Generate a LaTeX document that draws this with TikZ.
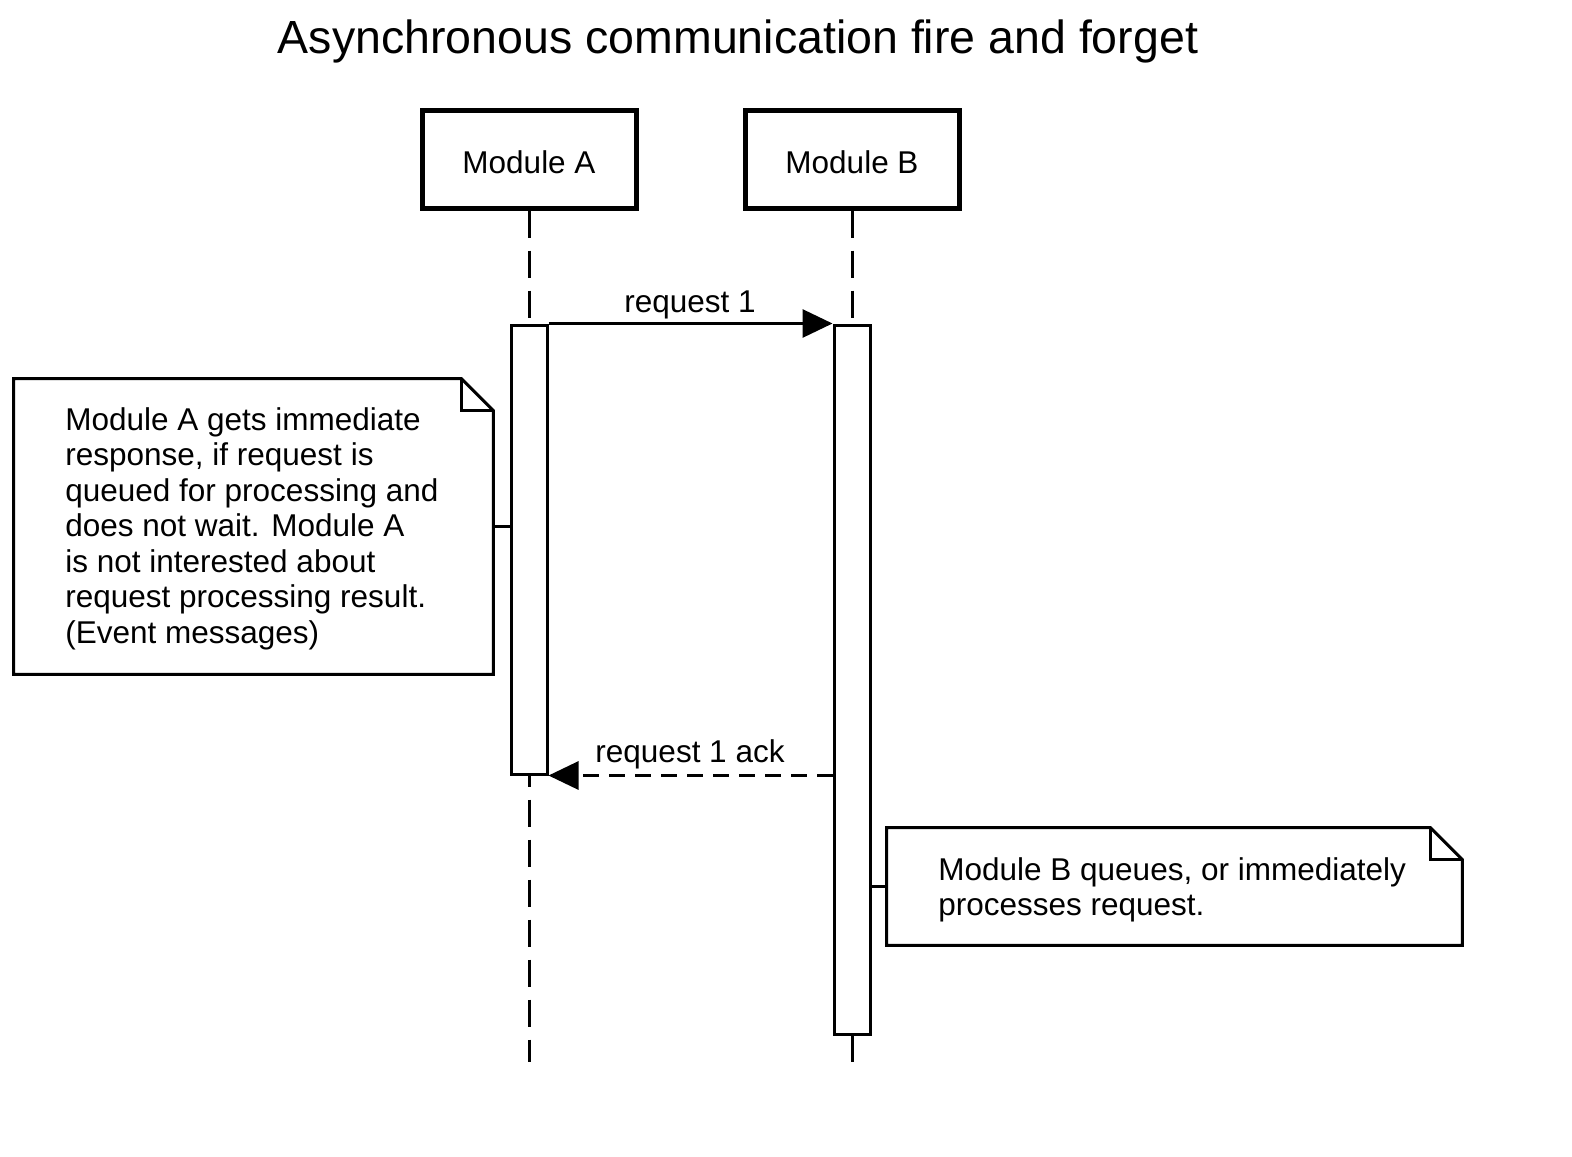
\documentclass[tikz,border=0pt]{standalone}
\usepackage{fontspec}
\setmainfont{Liberation Sans}
\usetikzlibrary{arrows.meta,calc}
\begin{document}
\begin{tikzpicture}[x=0.5pt,y=-0.5pt,
  module/.style={draw, line width=2.5pt, minimum width=107pt, minimum height=48.5pt, inner sep=0pt},
  lbl/.style={font=\fontsize{15.75pt}{17.75pt}\selectfont, inner sep=0pt},
  act/.style={draw, fill=white, line width=1.5pt, minimum width=18pt, inner sep=0pt},
  life/.style={line width=1.5pt, dash pattern=on 13.5pt off 6.5pt},
  msg/.style={line width=1.5pt, -{Triangle[length=15pt,width=14pt]}},
  reply/.style={msg, dash pattern=on 8pt off 5pt},
  noteframe/.style={inner sep=0pt},
  noteline/.style={line width=1.5pt, line join=miter}
]
\fill[white] (0,0) rectangle (1572,1156);
\useasboundingbox (0,0) rectangle (1572,1156);

% title
\node[font=\fontsize{23.25pt}{28pt}\selectfont, anchor=base, inner sep=0pt] (title) at (738,54) {Asynchronous communication fire and forget};

% participants
\node[module] (modA) at (529,159.5) {};
\node[module] (modB) at (852,159.5) {};
\node[lbl, anchor=base] (modAt) at (529,173) {Module A};
\node[lbl, anchor=base] (modBt) at (852,173) {Module B};

% activations
\node[act, minimum height=224.5pt] (actA) at (529,549.5) {};
\node[act, minimum height=354.5pt] (actB) at (852,679.5) {};

% lifelines
\coordinate (endA) at (529,1062);
\coordinate (endB) at (852,1062);
\draw[life] (modA.south) -- (actA.north);
\draw[life] (modB.south) -- (actB.north);
\draw[life, dash phase=8pt] (actA.south) -- (endA);
\draw[life] (actB.south) -- (endB);

% messages
\draw[msg] (actA.north east) -- (actB.north west);
\node[lbl, anchor=base] (m1) at (690,312) {request 1};
\draw[reply] (actA.south east -| actB.west) -- (actA.south east);
\node[lbl, anchor=base] (m2) at (690,762) {request 1 ack};

% note A
\node[noteframe, minimum width=239.5pt, minimum height=147.5pt] (noteA) at (253.5,526.5) {};
\draw[noteline] (noteA.north west) -- ($(noteA.north east)+(-32,0)$) -- ($(noteA.north east)+(0,32)$) -- (noteA.south east) -- (noteA.south west) -- cycle;
\draw[noteline] ($(noteA.north east)+(-32,0)$) -- ($(noteA.north east)+(-32,32)$) -- ($(noteA.north east)+(0,32)$);
\node[lbl, anchor=north west, align=left] (tA) at (65,407) {Module A gets immediate\\response, if request is\\queued for processing and\\does not wait. Module A\\is not interested about\\request processing result.\\(Event messages)};
\draw[line width=1.5pt] (noteA.east) -- (noteA.east -| actA.west);

% note B
\node[noteframe, minimum width=287.5pt, minimum height=58.5pt] (noteB) at (1174.5,886.5) {};
\draw[noteline] (noteB.north west) -- ($(noteB.north east)+(-32,0)$) -- ($(noteB.north east)+(0,32)$) -- (noteB.south east) -- (noteB.south west) -- cycle;
\draw[noteline] ($(noteB.north east)+(-32,0)$) -- ($(noteB.north east)+(-32,32)$) -- ($(noteB.north east)+(0,32)$);
\node[lbl, anchor=north west, align=left] (tB) at (938,857) {Module B queues, or immediately\\processes request.};
\draw[line width=1.5pt] (noteB.west) -- (noteB.west -| actB.east);
\end{tikzpicture}
\end{document}
